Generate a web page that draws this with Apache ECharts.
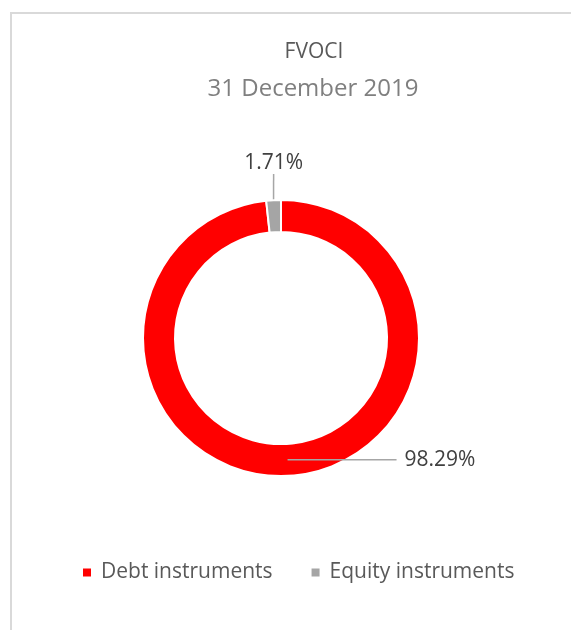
<!DOCTYPE html>
<html>
<head>
<meta charset="utf-8">
<script src="https://cdn.jsdelivr.net/npm/echarts@6/dist/echarts.min.js"></script>
<style>
  html, body { margin: 0; padding: 0; background: #fff; }
  #chart { width: 571px; height: 630px; }
</style>
</head>
<body>
<div id="chart"></div>
<script>
// data
const categories = ['Debt instruments', 'Equity instruments'];
const shares = [98.29, 1.71];
const sliceColors = ['#FF0000', '#A5A5A5'];
const titleText = 'FVOCI';
const subtitleText = '31 December 2019';

const cx = 281, cy = 338;
const innerR = 106, outerR = 138;
const midR = (innerR + outerR) / 2;
const font = '"Open Sans", "Noto Sans", sans-serif';
const labelText = { fontFamily: font, fontSize: 21, color: '#404040' };
const leaderStyle = { color: '#A6A6A6', width: 1.5 };

const chart = echarts.init(document.getElementById('chart'));

chart.setOption({
  animation: false,
  title: [
    {
      text: titleText,
      left: 309,
      top: 37,
      textAlign: 'center',
      textStyle: { fontFamily: font, fontSize: 21, fontWeight: 'normal', color: '#595959' }
    },
    {
      text: subtitleText,
      left: 308,
      top: 72,
      textAlign: 'center',
      textStyle: { fontFamily: font, fontSize: 24, fontWeight: 'normal', color: '#7f7f7f' }
    }
  ],
  legend: {
    left: 76,
    top: 557,
    icon: 'rect',
    itemWidth: 10,
    itemHeight: 10,
    itemGap: 37,
    textStyle: { fontFamily: font, fontSize: 21, color: '#595959', padding: [0, 0, 0, 4] },
    data: categories
  },
  graphic: [
    {
      type: 'rect',
      silent: true,
      shape: { x: 11, y: 13, width: 700, height: 700 },
      style: { fill: 'none', stroke: '#d9d9d9', lineWidth: 2 }
    }
  ],
  series: [
    {
      // the ring; only the small slice carries its label here
      type: 'pie',
      z: 2,
      center: [cx, cy],
      radius: [innerR, outerR],
      startAngle: 90,
      clockwise: true,
      avoidLabelOverlap: false,
      itemStyle: { borderColor: '#fff', borderWidth: 2 },
      label: Object.assign({ show: true, position: 'outside', formatter: '{c}%' }, labelText),
      labelLine: { show: true, length: 20, length2: 0, lineStyle: leaderStyle },
      labelLayout: function (p) {
        if (p.dataIndex !== 1) return {};
        // centred above the slice
        return {
          x: p.rect.x + p.rect.width / 2,
          y: p.rect.y - 25,
          align: 'center',
          verticalAlign: 'bottom'
        };
      },
      data: categories.map((name, i) => ({
        name: name,
        value: shares[i],
        itemStyle: { color: sliceColors[i] },
        label: { show: i === 1 },
        labelLine: { show: i === 1 }
      }))
    },
    {
      // invisible copy at the middle of the ring: the big slice's leader
      // starts there and is drawn over the ring
      type: 'pie',
      z: 5,
      silent: true,
      center: [cx, cy],
      radius: [midR - 1, midR],
      startAngle: 90,
      clockwise: true,
      avoidLabelOverlap: false,
      itemStyle: { color: 'rgba(0,0,0,0)', borderWidth: 0 },
      label: Object.assign({
        show: true,
        position: 'outside',
        formatter: '{c}%',
        distanceToLabelLine: 8,
        padding: [4, 0, 0, 0]
      }, labelText),
      labelLine: { show: true, showAbove: true, length: 0, length2: 109, lineStyle: leaderStyle },
      data: categories.map((name, i) => ({
        name: name,
        value: shares[i],
        label: { show: i === 0 },
        labelLine: { show: i === 0 }
      }))
    }
  ]
});
</script>
</body>
</html>
